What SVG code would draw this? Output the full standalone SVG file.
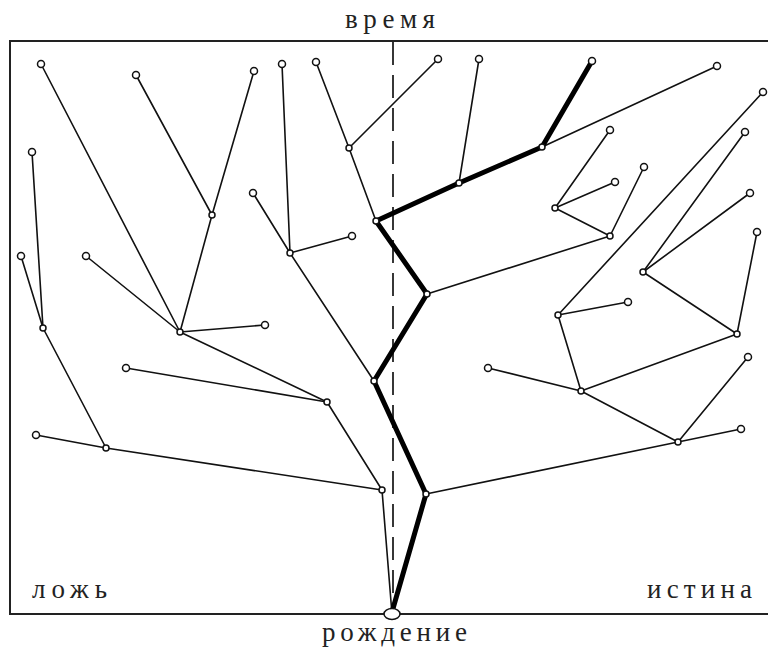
<svg xmlns="http://www.w3.org/2000/svg" width="768" height="648" viewBox="0 0 768 648">
<style>
.frame{fill:none;stroke:#222;stroke-width:2}
.axis{stroke:#222;stroke-width:1.8;stroke-dasharray:23 10;fill:none}
.e{stroke:#111;stroke-width:1.6;fill:none;stroke-linecap:round}
.t{stroke:#000;stroke-width:5;fill:none;stroke-linecap:round;stroke-linejoin:round}
.n circle,.n ellipse{fill:#fff;stroke:#111;stroke-width:1.5}
.lbl{font-family:"Liberation Serif","DejaVu Serif",serif;font-size:27px;fill:#222}
</style>
<rect width="768" height="648" fill="#fff"/>
<path class="frame" d="M780,41 H10 V614 H780"/>
<line class="axis" x1="393" y1="42" x2="393" y2="610"/>
<g id="connectors">
<line class="e" x1="392" y1="614" x2="382" y2="490"/>
<line class="e" x1="382" y1="490" x2="106" y2="448"/>
<line class="e" x1="382" y1="490" x2="327" y2="402"/>
<line class="e" x1="106" y1="448" x2="36" y2="435"/>
<line class="e" x1="106" y1="448" x2="43" y2="328"/>
<line class="e" x1="43" y1="328" x2="32" y2="152"/>
<line class="e" x1="43" y1="328" x2="21" y2="256"/>
<line class="e" x1="327" y1="402" x2="126" y2="368"/>
<line class="e" x1="327" y1="402" x2="180" y2="332"/>
<line class="e" x1="180" y1="332" x2="41" y2="64"/>
<line class="e" x1="180" y1="332" x2="86" y2="256"/>
<line class="e" x1="180" y1="332" x2="265" y2="325"/>
<line class="e" x1="180" y1="332" x2="212" y2="215"/>
<line class="e" x1="212" y1="215" x2="136" y2="75"/>
<line class="e" x1="212" y1="215" x2="254" y2="71"/>
<line class="e" x1="374" y1="381" x2="290" y2="253"/>
<line class="e" x1="290" y1="253" x2="282" y2="64"/>
<line class="e" x1="290" y1="253" x2="253" y2="193"/>
<line class="e" x1="290" y1="253" x2="352" y2="236"/>
<line class="e" x1="376" y1="221" x2="349" y2="148"/>
<line class="e" x1="349" y1="148" x2="316" y2="62"/>
<line class="e" x1="349" y1="148" x2="438" y2="59"/>
<line class="e" x1="459" y1="183" x2="479" y2="59"/>
<line class="e" x1="542" y1="147" x2="717" y2="66"/>
<line class="e" x1="427" y1="294" x2="610" y2="236"/>
<line class="e" x1="610" y1="236" x2="555" y2="208"/>
<line class="e" x1="555" y1="208" x2="610" y2="130"/>
<line class="e" x1="555" y1="208" x2="615" y2="182"/>
<line class="e" x1="610" y1="236" x2="644" y2="167"/>
<line class="e" x1="426" y1="494" x2="678" y2="442"/>
<line class="e" x1="678" y1="442" x2="741" y2="429"/>
<line class="e" x1="678" y1="442" x2="748" y2="357"/>
<line class="e" x1="678" y1="442" x2="581" y2="391"/>
<line class="e" x1="581" y1="391" x2="488" y2="368"/>
<line class="e" x1="581" y1="391" x2="558" y2="315"/>
<line class="e" x1="558" y1="315" x2="628" y2="302"/>
<line class="e" x1="558" y1="315" x2="763" y2="92"/>
<line class="e" x1="581" y1="391" x2="737" y2="334"/>
<line class="e" x1="737" y1="334" x2="757" y2="232"/>
<line class="e" x1="737" y1="334" x2="643" y2="272"/>
<line class="e" x1="643" y1="272" x2="745" y2="132"/>
<line class="e" x1="643" y1="272" x2="750" y2="193"/>
<polyline class="t" points="392,612 426,494 374,381 427,294 376,221 459,183 542,147 592,61"/>
</g>
<g id="root" class="n"><ellipse cx="392" cy="614" rx="8" ry="5.5"/></g>
<g id="n1" class="n"><circle cx="382" cy="490" r="3"/></g>
<g id="n2" class="n"><circle cx="426" cy="494" r="3"/></g>
<g id="n3" class="n"><circle cx="374" cy="381" r="3"/></g>
<g id="n4" class="n"><circle cx="427" cy="294" r="3"/></g>
<g id="n5" class="n"><circle cx="376" cy="221" r="3"/></g>
<g id="n6" class="n"><circle cx="459" cy="183" r="3"/></g>
<g id="n7" class="n"><circle cx="542" cy="147" r="3"/></g>
<g id="n8" class="n"><circle cx="592" cy="61" r="3.5"/></g>
<g id="n9" class="n"><circle cx="106" cy="448" r="3"/></g>
<g id="n10" class="n"><circle cx="36" cy="435" r="3.5"/></g>
<g id="n11" class="n"><circle cx="43" cy="328" r="3"/></g>
<g id="n12" class="n"><circle cx="32" cy="152" r="3.5"/></g>
<g id="n13" class="n"><circle cx="21" cy="256" r="3.5"/></g>
<g id="n14" class="n"><circle cx="327" cy="402" r="3"/></g>
<g id="n15" class="n"><circle cx="126" cy="368" r="3.5"/></g>
<g id="n16" class="n"><circle cx="180" cy="332" r="3"/></g>
<g id="n17" class="n"><circle cx="41" cy="64" r="3.5"/></g>
<g id="n18" class="n"><circle cx="86" cy="256" r="3.5"/></g>
<g id="n19" class="n"><circle cx="265" cy="325" r="3.5"/></g>
<g id="n20" class="n"><circle cx="212" cy="215" r="3"/></g>
<g id="n21" class="n"><circle cx="136" cy="75" r="3.5"/></g>
<g id="n22" class="n"><circle cx="254" cy="71" r="3.5"/></g>
<g id="n23" class="n"><circle cx="290" cy="253" r="3"/></g>
<g id="n24" class="n"><circle cx="282" cy="64" r="3.5"/></g>
<g id="n25" class="n"><circle cx="253" cy="193" r="3.5"/></g>
<g id="n26" class="n"><circle cx="352" cy="236" r="3.5"/></g>
<g id="n27" class="n"><circle cx="349" cy="148" r="3"/></g>
<g id="n28" class="n"><circle cx="316" cy="62" r="3.5"/></g>
<g id="n29" class="n"><circle cx="438" cy="59" r="3.5"/></g>
<g id="n30" class="n"><circle cx="479" cy="59" r="3.5"/></g>
<g id="n31" class="n"><circle cx="717" cy="66" r="3.5"/></g>
<g id="n32" class="n"><circle cx="610" cy="236" r="3"/></g>
<g id="n33" class="n"><circle cx="555" cy="208" r="3"/></g>
<g id="n34" class="n"><circle cx="610" cy="130" r="3.5"/></g>
<g id="n35" class="n"><circle cx="615" cy="182" r="3.5"/></g>
<g id="n36" class="n"><circle cx="644" cy="167" r="3.5"/></g>
<g id="n37" class="n"><circle cx="678" cy="442" r="3"/></g>
<g id="n38" class="n"><circle cx="741" cy="429" r="3.5"/></g>
<g id="n39" class="n"><circle cx="748" cy="357" r="3.5"/></g>
<g id="n40" class="n"><circle cx="581" cy="391" r="3"/></g>
<g id="n41" class="n"><circle cx="488" cy="368" r="3.5"/></g>
<g id="n42" class="n"><circle cx="558" cy="315" r="3"/></g>
<g id="n43" class="n"><circle cx="628" cy="302" r="3.5"/></g>
<g id="n44" class="n"><circle cx="763" cy="92" r="3.5"/></g>
<g id="n45" class="n"><circle cx="737" cy="334" r="3"/></g>
<g id="n46" class="n"><circle cx="757" cy="232" r="3.5"/></g>
<g id="n47" class="n"><circle cx="643" cy="272" r="3"/></g>
<g id="n48" class="n"><circle cx="745" cy="132" r="3.5"/></g>
<g id="n49" class="n"><circle cx="750" cy="193" r="3.5"/></g>
<g id="labels">
<text class="lbl" x="345" y="28" textLength="90" lengthAdjust="spacing">время</text>
<text class="lbl" x="322" y="641" textLength="145" lengthAdjust="spacing">рождение</text>
<text class="lbl" x="32" y="598" textLength="75" lengthAdjust="spacing">ложь</text>
<text class="lbl" x="647" y="598" textLength="105" lengthAdjust="spacing">истина</text>
</g>
</svg>
